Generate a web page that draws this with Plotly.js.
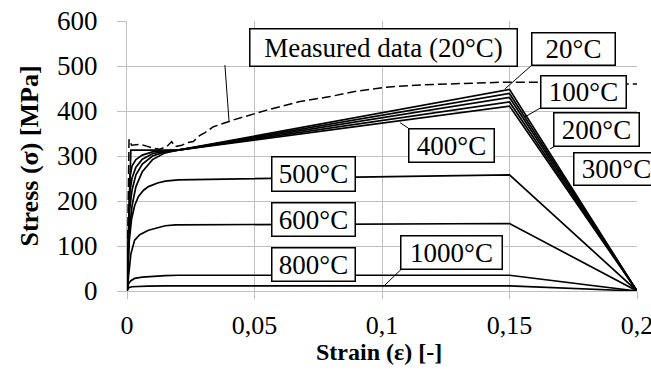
<!DOCTYPE html>
<html>
<head>
<meta charset="utf-8">
<script src="https://cdn.plot.ly/plotly-3.0.1.min.js"></script>
<style>
html,body{margin:0;padding:0;background:#fff;}
#chart{width:651px;height:374px;}
</style>
</head>
<body>
<div id="chart"></div>
<script>
// ---- data ----
const eps20   = [0, 0.0015, 0.02, 0.15, 0.2];
const sig20   = [0, 313, 313, 448, 0];
const eps100  = [0, 0.0012, 0.002, 0.0035, 0.006, 0.01, 0.015, 0.02, 0.15, 0.2];
const sig100  = [0, 255, 278, 292, 302, 309, 312, 313, 439, 0];
const eps200  = [0, 0.0011, 0.002, 0.0035, 0.006, 0.01, 0.015, 0.02, 0.15, 0.2];
const sig200  = [0, 220, 252, 275, 293, 305, 311, 313, 430, 0];
const eps300  = [0, 0.001, 0.002, 0.0035, 0.006, 0.01, 0.015, 0.02, 0.15, 0.2];
const sig300  = [0, 180, 225, 258, 282, 300, 309, 313, 420, 0];
const eps400  = [0, 0.0009, 0.002, 0.0035, 0.006, 0.01, 0.015, 0.02, 0.15, 0.2];
const sig400  = [0, 135, 190, 232, 265, 292, 307, 313, 411, 0];
const eps500  = [0, 0.0009, 0.0018, 0.003, 0.0045, 0.0065, 0.0084, 0.012, 0.015, 0.02, 0.15, 0.2];
const sig500  = [0, 113, 160, 190, 210, 224, 232, 240, 244, 247, 258, 0];
const eps600  = [0, 0.0009, 0.0015, 0.003, 0.005, 0.0084, 0.012, 0.015, 0.019, 0.15, 0.2];
const sig600  = [0, 58, 82, 113, 125, 135, 141, 145, 147, 150, 0];
const eps800  = [0, 0.0006, 0.0015, 0.003, 0.006, 0.01, 0.015, 0.02, 0.15, 0.2];
const sig800  = [0, 16, 23, 28, 31, 33, 34, 35, 35, 0];
const eps1000 = [0, 0.0008, 0.002, 0.004, 0.008, 0.015, 0.02, 0.15, 0.2];
const sig1000 = [0, 8, 9.5, 10.5, 11, 11.5, 11.5, 11.5, 0];

const epsMeasured = [0, 0.0004, 0.0008, 0.0018, 0.0051, 0.0077, 0.0103, 0.0129, 0.0156, 0.0175, 0.0188, 0.0215, 0.024, 0.026, 0.0286, 0.0306, 0.0339, 0.0417, 0.0548, 0.0678, 0.0796, 0.0888, 0.1018, 0.115, 0.128, 0.1477, 0.167, 0.18, 0.2];
const sigMeasured = [0, 200, 337, 324, 326, 322, 317, 315, 321, 332, 321, 324, 330, 332, 346, 352, 365, 380, 402, 421, 432, 443, 453, 458, 461, 464, 464, 461, 460];

const xTickVals = [0, 0.05, 0.1, 0.15, 0.2];
const xTickText = ["0", "0,05", "0,1", "0,15", "0,2"];
const yTickVals = [0, 100, 200, 300, 400, 500, 600];

const xTitle = "Strain (ε) [-]";
const yTitle = "Stress (σ) [MPa]";
const labelText = ["Measured data (20°C)", "20°C", "100°C", "200°C", "300°C", "400°C", "500°C", "600°C", "800°C", "1000°C"];
// ---------------------------------------

const serif = 'Liberation Serif';

const curves = [
  [eps20, sig20], [eps100, sig100], [eps200, sig200], [eps300, sig300], [eps400, sig400],
  [eps500, sig500], [eps600, sig600], [eps800, sig800], [eps1000, sig1000]
];
const traces = curves.map(c => ({
  x: c[0], y: c[1], type: 'scatter', mode: 'lines',
  line: {color: '#000', width: 1.7}, hoverinfo: 'skip', showlegend: false
}));
traces.push({
  x: epsMeasured, y: sigMeasured, type: 'scatter', mode: 'lines',
  line: {color: '#000', width: 1.5, dash: '9px,4px'}, hoverinfo: 'skip', showlegend: false
});

// label boxes: [x, y, width, height]
const boxPos = [
  [0.1006, 542, 266, 36],
  [0.1749, 537, 82, 31],
  [0.1791, 443, 84, 31],
  [0.1843, 358, 84, 32],
  [0.1918, 272, 84, 31],
  [0.1271, 324, 84, 32],
  [0.0733, 259, 82, 33],
  [0.0733, 158, 82, 32],
  [0.0733, 58, 82, 32],
  [0.1274, 86, 100, 32]
];
const annotations = labelText.map((t, i) => ({
  text: t, x: boxPos[i][0], y: boxPos[i][1], xref: 'x', yref: 'y',
  xanchor: 'center', yanchor: 'middle', showarrow: false,
  width: boxPos[i][2], height: boxPos[i][3], align: 'center', valign: 'middle',
  bgcolor: '#fff', bordercolor: '#000', borderwidth: 1.5, borderpad: 0,
  font: {family: serif, size: 27, color: '#000'}
}));
// x-axis title (placed as an annotation so it can sit tight under the tick labels)
annotations.push({
  text: '<b>' + xTitle + '</b>', xref: 'paper', yref: 'paper', x: 0.495, y: -0.226,
  xanchor: 'center', yanchor: 'middle', showarrow: false,
  font: {family: serif, size: 24, color: '#000'}
});

// leader lines
const leaders = [
  [0.0384, 502, 0.040, 378],
  [0.1584, 500, 0.1482, 449],
  [0.1622, 407, 0.1561, 387],
  [0.1676, 321, 0.1659, 316],
  [0.1103, 362, 0.1071, 374],
  [0.1075, 48, 0.1005, 9.6]
];
const shapes = leaders.map(l => ({
  type: 'line', xref: 'x', yref: 'y', x0: l[0], y0: l[1], x1: l[2], y1: l[3],
  line: {color: '#000', width: 1}, layer: 'above'
}));

const layout = {
  width: 651, height: 374,
  margin: {l: 127, r: 14, t: 21, b: 83},
  paper_bgcolor: '#fff', plot_bgcolor: '#fff',
  font: {family: serif, color: '#000'},
  showlegend: false,
  xaxis: {
    range: [0, 0.2], tickvals: xTickVals, ticktext: xTickText,
    showgrid: true, gridcolor: '#c0c0c0', gridwidth: 1,
    showline: true, linecolor: '#c0c0c0', linewidth: 1, zeroline: false,
    ticks: 'outside', ticklen: 7, tickcolor: '#c0c0c0', tickwidth: 1,
    ticklabelstandoff: 4, ticklabeloverflow: 'allow',
    tickfont: {family: serif, size: 26, color: '#000'},
    automargin: false, fixedrange: true
  },
  yaxis: {
    range: [0, 600], tickvals: yTickVals,
    showgrid: true, gridcolor: '#c0c0c0', gridwidth: 1,
    showline: true, linecolor: '#c0c0c0', linewidth: 1, zeroline: false,
    ticks: 'outside', ticklen: 9, tickcolor: '#c0c0c0', tickwidth: 1,
    ticklabelstandoff: 14,
    tickfont: {family: serif, size: 27, color: '#000'},
    title: {text: '<b>' + yTitle + '</b>', font: {family: serif, size: 26, color: '#000'}, standoff: 10},
    automargin: false, fixedrange: true
  },
  annotations: annotations,
  shapes: shapes
};
Plotly.newPlot('chart', traces, layout, {staticPlot: true, displayModeBar: false});
</script>
</body>
</html>
